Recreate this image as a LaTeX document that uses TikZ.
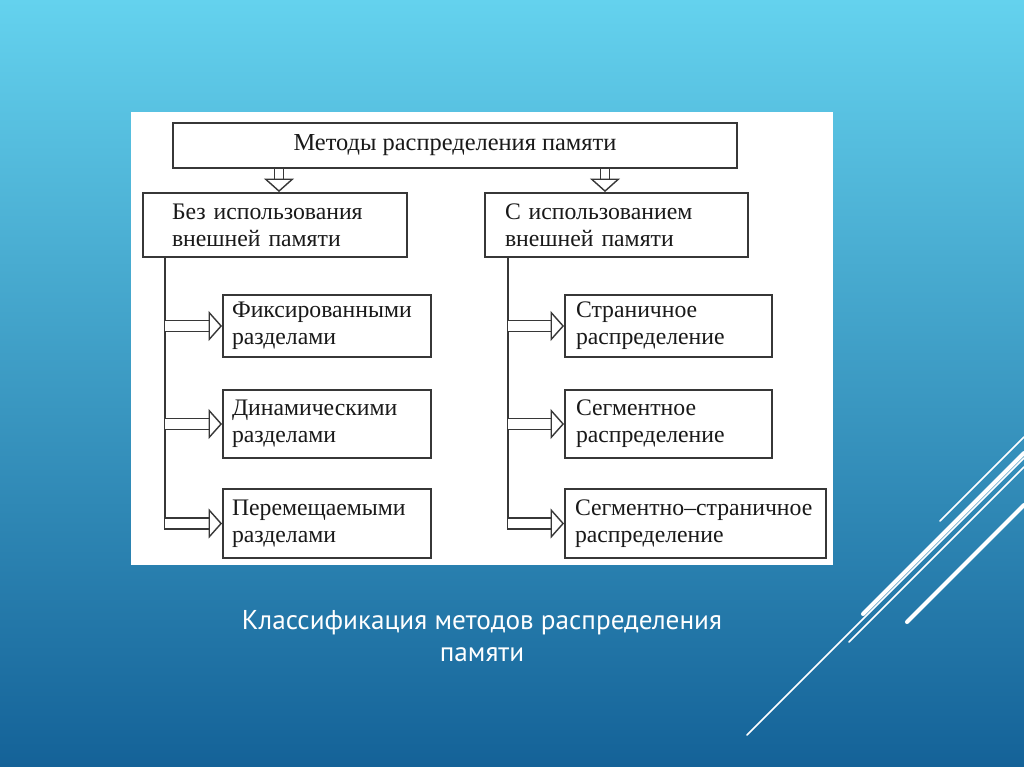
\documentclass[tikz,border=0pt]{standalone}
\usepackage{fontspec}
\setmainfont{Liberation Serif}
\newfontfamily\capfont{PT Sans}
\usetikzlibrary{arrows.meta}
\definecolor{bgtop}{RGB}{100,210,238}
\definecolor{bgmid}{RGB}{45,148,198}
\definecolor{bgbot}{RGB}{20,98,152}
\definecolor{boxline}{RGB}{55,55,55}
\tikzset{
  box/.style={draw=boxline, line width=1.1pt, fill=white, align=left, text=black!90,
    font=\fontsize{13.5}{15.5}\selectfont},
  dbl/.style={draw=boxline, line width=0.8pt, double=white, double distance=0.19cm,
    -{Triangle[open, length=0.27cm 0 0, width=0.6cm 0 0, line width=0.8pt 0 0]}},
  tree/.style={draw=boxline, line width=1.2pt},
  deco/.style={white, line cap=round},
}

\begin{document}
\begin{tikzpicture}[x=0.02cm,y=-0.02cm]
\useasboundingbox (0,0) rectangle (1024,767);
\shade[top color=bgtop, middle color=bgmid, bottom color=bgbot] (0,0) rectangle (1024,767);
\fill[white] (131,112) rectangle (833,565);

% blocks
\node[box, align=center, minimum width=11.28cm, minimum height=0.9cm,
  font=\fontsize{13.9}{15.5}\selectfont] (top) at (455,145.5)
  {Методы распределения памяти};
\node[box, inner xsep=0.58cm, text width=4.12cm, minimum height=1.28cm] (bez) at (275,225)
  {Без использования\\внешней памяти};
\node[box, inner xsep=0.4cm, text width=4.46cm, minimum height=1.28cm] (ext) at (616.5,225)
  {С использованием\\внешней памяти};
\node[box, inner xsep=0.18cm, text width=3.8cm, minimum height=1.24cm] (fix) at (327,326)
  {Фиксированными\\разделами};
\node[box, inner xsep=0.18cm, text width=3.8cm, minimum height=1.36cm] (dyn) at (327,424)
  {Динамическими\\разделами};
\node[box, inner xsep=0.18cm, text width=3.8cm, minimum height=1.38cm] (mov) at (327,523.5)
  {Перемещаемыми\\разделами};
\node[box, inner xsep=0.22cm, text width=3.7cm, minimum height=1.24cm] (pag) at (668.5,326)
  {Страничное\\распределение};
\node[box, inner xsep=0.22cm, text width=3.7cm, minimum height=1.36cm] (seg) at (668.5,424)
  {Сегментное\\распределение};
\node[box, inner xsep=0.2cm, text width=4.82cm, minimum height=1.38cm] (sgp) at (695.5,523.5)
  {Сегментно–страничное\\распределение};

% arrows
\draw[dbl, double distance=0.16cm] ([xshift=0.08cm]bez.north |- top.south) -- ([xshift=0.08cm]bez.north);
\draw[dbl, double distance=0.16cm] ([xshift=-0.23cm]ext.north |- top.south) -- ([xshift=-0.23cm]ext.north);

\coordinate (lt) at ([xshift=0.46cm]bez.south west);
\draw[tree] (lt) -- ([yshift=-0.12cm]lt |- mov.west);
\draw[dbl] (lt |- fix.west) -- (fix.west);
\draw[dbl] (lt |- dyn.west) -- (dyn.west);
\draw[dbl] (lt |- mov.west) -- (mov.west);

\coordinate (rt) at ([xshift=0.48cm]ext.south west);
\draw[tree] (rt) -- ([yshift=-0.12cm]rt |- sgp.west);
\draw[dbl] (rt |- pag.west) -- (pag.west);
\draw[dbl] (rt |- seg.west) -- (seg.west);
\draw[dbl] (rt |- sgp.west) -- (sgp.west);

\node[white, align=center, font=\capfont\fontsize{15.5}{18.5}\selectfont] (cap) at (482,636)
  {Классификация методов распределения\\памяти};

% corner strokes
\draw[deco, line width=0.9pt] (940,521) -- (1024,437);
\draw[deco, line width=2.3pt] (863,614) -- (1024,453);
\draw[deco, line width=0.9pt] (747,735) -- (1024,458);
\draw[deco, line width=0.9pt] (849,642) -- (1024,467);
\draw[deco, line width=2.3pt] (907,622) -- (1024,505);
\end{tikzpicture}
\end{document}
